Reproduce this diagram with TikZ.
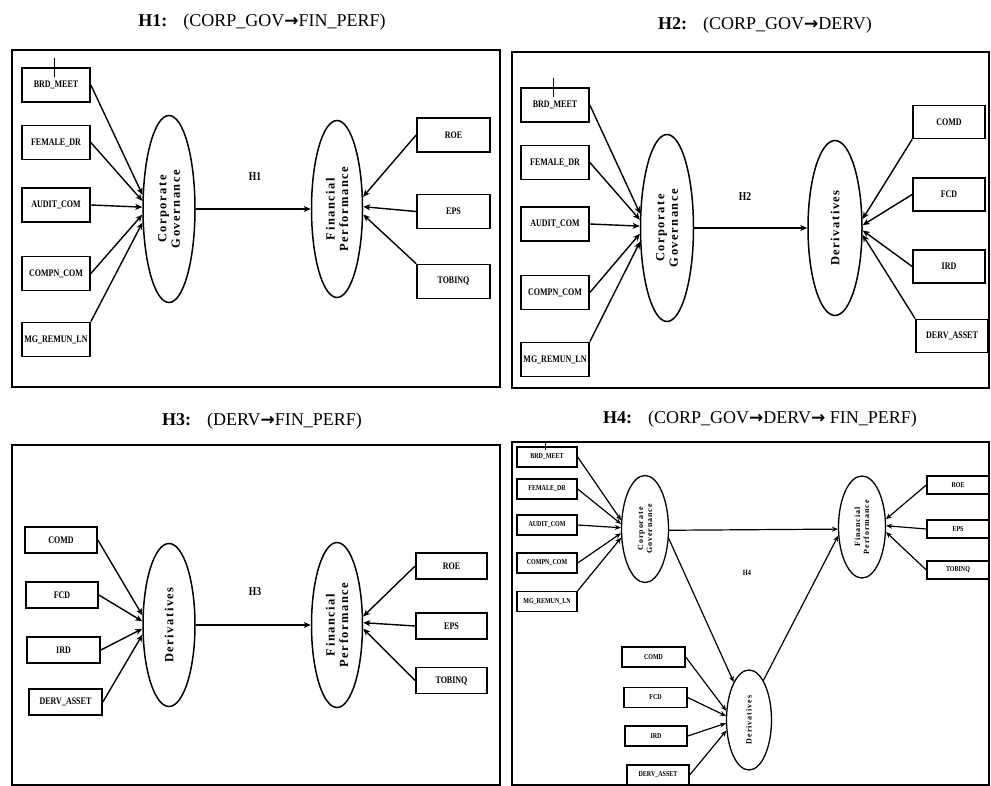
\documentclass[tikz,border=0pt]{standalone}
\usepackage{fontspec}
\setmainfont{Liberation Serif}
\newfontfamily\condfont[FakeStretch=0.8]{Liberation Serif}
\newfontfamily\spacedfont[LetterSpace=12]{Liberation Serif}
\newfontfamily\symfont{DejaVu Sans}
\usetikzlibrary{shapes.geometric,arrows.meta,calc}
\tikzset{
  panel/.style={draw, line width=2pt},
  ttl/.style={font=\fontsize{18}{20}\selectfont, inner sep=0pt},
  ind/.style={draw, line width=1.7pt, inner sep=0pt, font=\condfont\bfseries\fontsize{10}{11}\selectfont},
  smind/.style={draw, line width=1.4pt, inner sep=0pt, font=\condfont\bfseries\fontsize{7.5}{8}\selectfont},
  lat/.style={draw, ellipse, line width=1.5pt, inner sep=0pt},
  lattext/.style={rotate=90, align=center, inner sep=0pt, font=\spacedfont\bfseries\fontsize{12.5}{13.5}\selectfont},
  smlattext/.style={rotate=90, align=center, inner sep=0pt, font=\spacedfont\bfseries\fontsize{8}{9}\selectfont},
  arr/.style={-{Stealth[length=7pt,width=6pt,inset=2pt]}, line width=1.4pt},
  smarr/.style={-{Stealth[length=6pt,width=5pt,inset=2pt]}, line width=1.2pt},
  hlab/.style={font=\bfseries\condfont\fontsize{12}{13}\selectfont, inner sep=0pt},
  tick/.style={line width=0.7pt}
}
\newcommand\tarrow{{\symfont\bfseries\fontsize{17}{18}\selectfont →}}
\begin{document}
\begin{tikzpicture}[x=1pt,y=-1pt]
\useasboundingbox (0,0) rectangle (991,786);
% ---------------- titles
\node[ttl] (t1) at (262,22) {\textbf{H1:}\hspace{16pt}(CORP\_GOV\tarrow FIN\_PERF)};
\node[ttl] (t2) at (765,25) {\textbf{H2:}\hspace{16pt}(CORP\_GOV\tarrow DERV)};
\node[ttl] (t3) at (262,421) {\textbf{H3:}\hspace{16pt}(DERV\tarrow FIN\_PERF)};
\node[ttl] (t4) at (760,419) {\textbf{H4:}\hspace{16pt}(CORP\_GOV\tarrow DERV\tarrow\ FIN\_PERF)};
% ---------------- panel borders
\draw[panel] (12,50) rectangle (500,387);
\draw[panel] (512,52) rectangle (989,388);
\draw[panel] (12,445) rectangle (500,785);
\draw[panel] (512,442) rectangle (989,785);

% ================= PANEL 1
\node[ind, minimum width=68, minimum height=34] (a1) at (56,85) {BRD\_MEET};
\node[ind, minimum width=68, minimum height=34] (a2) at (56,142.5) {FEMALE\_DR};
\node[ind, minimum width=68, minimum height=34] (a3) at (56,205) {AUDIT\_COM};
\node[ind, minimum width=68, minimum height=34] (a4) at (56,273.5) {COMPN\_COM};
\node[ind, minimum width=68, minimum height=34] (a5) at (56,339.5) {MG\_REMUN\_LN};
\draw[tick] (54,58) -- (54,77);
\node[lat, minimum width=52, minimum height=187] (cg1) at (169,209) {};
\node[lattext] (cg1t) at (cg1) {Corporate\\Governance};
\node[lat, minimum width=51, minimum height=177] (fp1) at (337,209) {};
\node[lattext] (fp1t) at (fp1) {Financial\\Performance};
\node[ind, minimum width=73, minimum height=34] (r1) at (453.5,135) {ROE};
\node[ind, minimum width=73, minimum height=34] (r2) at (453.5,211.5) {EPS};
\node[ind, minimum width=73, minimum height=34] (r3) at (453.5,281.5) {TOBINQ};
\node[hlab] (h1) at (255,177) {H1};
\draw[arr] (a1.east) -- (cg1.152);
\draw[arr] (a2.east) -- (cg1.163);
\draw[arr] (a3.east) -- (cg1.176);
\draw[arr] (a4.east) -- (cg1.192);
\draw[arr] (a5.north east) -- (cg1.207);
\draw[arr] (cg1.east) -- (fp1.west);
\draw[arr] (r1.west) -- (fp1.25);
\draw[arr] (r2.west) -- (fp1.5);
\draw[arr] (r3.north west) -- (fp1.-12);

% ================= PANEL 2
\node[ind, minimum width=68, minimum height=34] (b1) at (555,105) {BRD\_MEET};
\node[ind, minimum width=68, minimum height=34] (b2) at (555,162.5) {FEMALE\_DR};
\node[ind, minimum width=68, minimum height=34] (b3) at (555,224) {AUDIT\_COM};
\node[ind, minimum width=68, minimum height=34] (b4) at (555,292.5) {COMPN\_COM};
\node[ind, minimum width=68, minimum height=34] (b5) at (555,359.5) {MG\_REMUN\_LN};
\draw[tick] (553,78) -- (553,97);
\node[lat, minimum width=53, minimum height=187] (cg2) at (667,228) {};
\node[lattext] (cg2t) at (cg2) {Corporate\\Governance};
\node[lat, minimum width=54, minimum height=175] (dv2) at (835,228) {};
\node[lattext] (dv2t) at (dv2) {Derivatives};
\node[ind, minimum width=72, minimum height=33] (s1) at (949,122) {COMD};
\node[ind, minimum width=72, minimum height=33] (s2) at (949,194.5) {FCD};
\node[ind, minimum width=72, minimum height=33] (s3) at (949,266.5) {IRD};
\node[ind, minimum width=72, minimum height=33] (s4) at (952,336) {DERV\_ASSET};
\node[hlab] (h2) at (745,197) {H2};
\draw[arr] (b1.east) -- (cg2.152);
\draw[arr] (b2.east) -- (cg2.163);
\draw[arr] (b3.east) -- (cg2.176);
\draw[arr] (b4.east) -- (cg2.192);
\draw[arr] (b5.north east) -- (cg2.207);
\draw[arr] (cg2.east) -- (dv2.west);
\draw[arr] (s1.south west) -- (dv2.18);
\draw[arr] (s2.west) -- (dv2.6);
\draw[arr] (s3.west) -- (dv2.-5);
\draw[arr] (s4.north west) -- (dv2.-14);

% ================= PANEL 3
\node[ind, minimum width=72, minimum height=26] (c1) at (61,540) {COMD};
\node[ind, minimum width=72, minimum height=26] (c2) at (62,595) {FCD};
\node[ind, minimum width=73, minimum height=26] (c3) at (63.5,650) {IRD};
\node[ind, minimum width=73, minimum height=26] (c4) at (65.5,702) {DERV\_ASSET};
\node[lat, minimum width=52, minimum height=163] (dv3) at (169,625) {};
\node[lattext] (dv3t) at (dv3) {Derivatives};
\node[lat, minimum width=51, minimum height=165] (fp3) at (337,625) {};
\node[lattext] (fp3t) at (fp3) {Financial\\Performance};
\node[ind, minimum width=71, minimum height=26] (q1) at (451.5,566) {ROE};
\node[ind, minimum width=71, minimum height=26] (q2) at (451.5,626) {EPS};
\node[ind, minimum width=71, minimum height=26] (q3) at (451.5,680.5) {TOBINQ};
\node[hlab] (h3) at (255,592) {H3};
\draw[arr] (c1.east) -- (dv3.160);
\draw[arr] (c2.east) -- (dv3.172);
\draw[arr] (c3.east) -- (dv3.188);
\draw[arr] (c4.east) -- (dv3.200);
\draw[arr] (dv3.east) -- (fp3.west);
\draw[arr] (q1.west) -- (fp3.18);
\draw[arr] (q2.west) -- (fp3.5);
\draw[arr] (q3.west) -- (fp3.-8);

% ================= PANEL 4
\node[smind, minimum width=60, minimum height=20] (d1) at (547,457) {BRD\_MEET};
\node[smind, minimum width=60, minimum height=20] (d2) at (547,489) {FEMALE\_DR};
\node[smind, minimum width=60, minimum height=20] (d3) at (547,525) {AUDIT\_COM};
\node[smind, minimum width=60, minimum height=20] (d4) at (547,563) {COMPN\_COM};
\node[smind, minimum width=60, minimum height=20] (d5) at (547,601.5) {MG\_REMUN\_LN};
\draw[tick] (545,442) -- (545,450);
\node[lat, line width=1.3pt, minimum width=47, minimum height=107] (cg4) at (645,529) {};
\node[smlattext] (cg4t) at (cg4) {Corporate\\Governance};
\node[lat, line width=1.3pt, minimum width=47, minimum height=102] (fp4) at (862,527) {};
\node[smlattext] (fp4t) at (fp4) {Financial\\Performance};
\node[lat, line width=1.3pt, minimum width=45, minimum height=100] (dv4) at (749,720) {};
\node[smlattext] (dv4t) at (dv4) {Derivatives};
\node[smind, minimum width=62, minimum height=18] (e1) at (958,485) {ROE};
\node[smind, minimum width=62, minimum height=18] (e2) at (958,529) {EPS};
\node[smind, minimum width=62, minimum height=18] (e3) at (958,570) {TOBINQ};
\node[smind, minimum width=63, minimum height=20] (f1) at (653.5,657) {COMD};
\node[smind, minimum width=63, minimum height=20] (f2) at (655.5,697.5) {FCD};
\node[smind, minimum width=62, minimum height=20] (f3) at (656,736) {IRD};
\node[smind, minimum width=62, minimum height=20] (f4) at (658,775) {DERV\_ASSET};
\node[hlab, font=\bfseries\condfont\fontsize{8}{9}\selectfont] (h4) at (747,573) {H4};
\draw[smarr] (d1.east) -- (cg4.160);
\draw[smarr] (d2.east) -- (cg4.168);
\draw[smarr] (d3.east) -- (cg4.177);
\draw[smarr] (d4.east) -- (cg4.190);
\draw[smarr] (d5.north east) -- (cg4.200);
\draw[smarr] (cg4.-3) -- (fp4.185);
\draw[smarr] (cg4.-22) -- (dv4.112);
\draw[smarr] (dv4.70) -- (fp4.200);
\draw[smarr] (e1.west) -- (fp4.18);
\draw[smarr] (e2.west) -- (fp4.3);
\draw[smarr] (e3.west) -- (fp4.-12);
\draw[smarr] (f1.east) -- (dv4.158);
\draw[smarr] (f2.east) -- (dv4.170);
\draw[smarr] (f3.east) -- (dv4.188);
\draw[smarr] (f4.east) -- (dv4.205);
\end{tikzpicture}
\end{document}
